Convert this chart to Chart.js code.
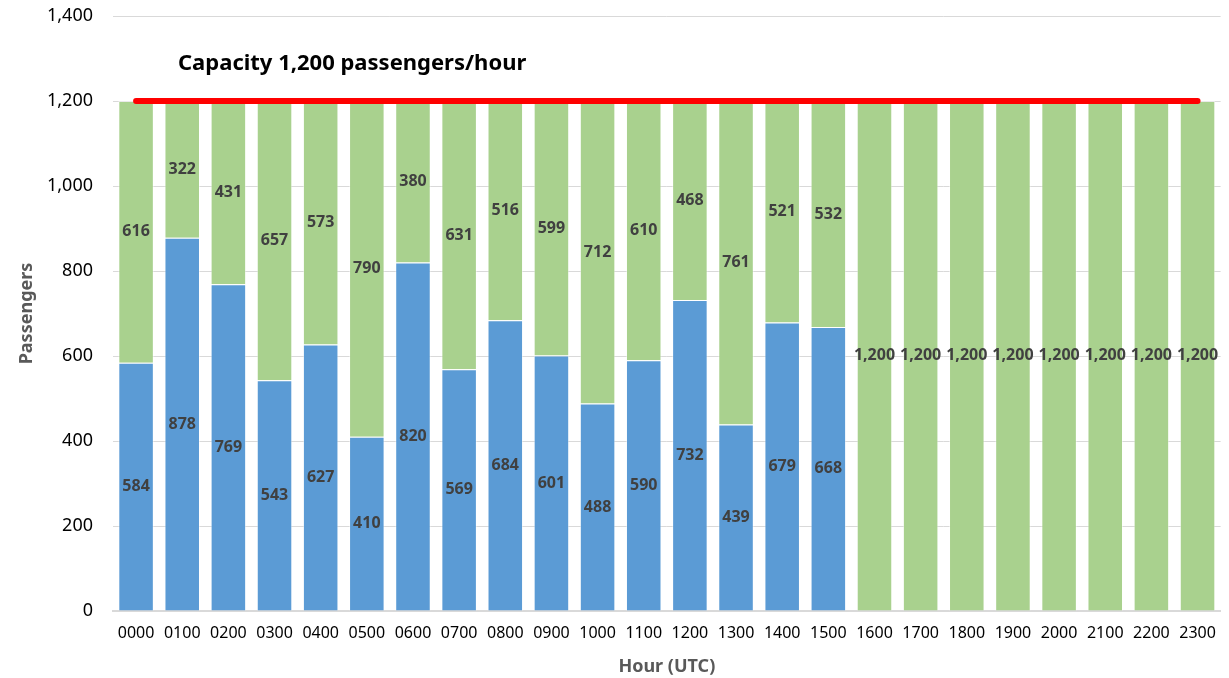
<!DOCTYPE html>
<html lang="en">
  <head>
    <meta charset="UTF-8" />
    <title>Passengers per hour</title>
    <script src="https://cdn.jsdelivr.net/npm/chart.js"></script>
    <style>
      html, body { margin: 0; padding: 0; background: #fff; }
      #wrap { width: 1229px; height: 678px; }
    </style>
  </head>
  <body>
    <div id="wrap"><canvas id="paxChart" width="1229" height="678"></canvas></div>

    <script>
      // hours on the x axis
      const hours = ['0000', '0100', '0200', '0300', '0400', '0500', '0600', '0700',
        '0800', '0900', '1000', '1100', '1200', '1300', '1400', '1500',
        '1600', '1700', '1800', '1900', '2000', '2100', '2200', '2300'];
      // booked passengers (blue)
      const booked = [584, 878, 769, 543, 627, 410, 820, 569, 684, 601, 488, 590, 732, 439, 679, 668,
        null, null, null, null, null, null, null, null];
      // remaining capacity (green)
      const remaining = [616, 322, 431, 657, 573, 790, 380, 631, 516, 599, 712, 610, 468, 761, 521, 532,
        1200, 1200, 1200, 1200, 1200, 1200, 1200, 1200];
      const capacity = hours.map(() => 1200);
      const yTicks = [0, 200, 400, 600, 800, 1000, 1200, 1400];
      const capacityText = 'Capacity 1,200 passengers/hour';

      const fmt = v => Number(v).toLocaleString('en-US');

      // value labels in the middle of every bar segment
      const segmentLabels = {
        id: 'segmentLabels',
        afterDatasetsDraw(chart) {
          const ctx = chart.ctx;
          ctx.save();
          ctx.font = 'bold 16px "Noto Sans"';
          ctx.fillStyle = '#404040';
          ctx.textAlign = 'center';
          ctx.textBaseline = 'middle';
          chart.data.datasets.forEach((ds, i) => {
            if (ds.type !== 'bar') return;
            const meta = chart.getDatasetMeta(i);
            meta.data.forEach((bar, j) => {
              const v = ds.data[j];
              if (v == null) return;
              ctx.fillText(fmt(v), bar.x, (bar.y + bar.base) / 2);
            });
          });
          ctx.restore();
        }
      };

      // the capacity caption above the red line
      const capacityCaption = {
        id: 'capacityCaption',
        afterDraw(chart) {
          const ctx = chart.ctx;
          ctx.save();
          ctx.font = 'bold 22px "Noto Sans"';
          ctx.fillStyle = '#000';
          ctx.textAlign = 'left';
          ctx.textBaseline = 'middle';
          ctx.fillText(capacityText, 178, 64);
          ctx.restore();
        }
      };

      const barBorder = 'rgba(255,255,255,0.45)';

      new Chart(document.getElementById('paxChart'), {
        data: {
          labels: hours,
          datasets: [
            {
              type: 'line',
              label: 'Capacity',
              data: capacity,
              borderColor: '#ff0000',
              borderWidth: 6,
              borderCapStyle: 'round',
              pointRadius: 0,
              fill: false,
              stack: 'cap',
              order: 0
            },
            {
              type: 'bar',
              label: 'Booked',
              data: booked,
              backgroundColor: '#5b9bd5',
              borderColor: barBorder,
              borderWidth: 1,
              stack: 'pax',
              order: 1
            },
            {
              type: 'bar',
              label: 'Remaining',
              data: remaining,
              backgroundColor: '#a9d18e',
              borderColor: barBorder,
              borderWidth: 1,
              stack: 'pax',
              order: 2
            }
          ]
        },
        options: {
          responsive: false,
          animation: false,
          layout: { padding: { top: 16, right: 7, left: 0, bottom: 0 } },
          datasets: {
            bar: { barPercentage: 0.77, categoryPercentage: 1.0 }
          },
          plugins: {
            legend: { display: false },
            tooltip: { enabled: false }
          },
          scales: {
            x: {
              stacked: true,
              offset: true,
              grid: { display: false, drawTicks: false },
              border: { display: true, color: '#d9d9d9', width: 2 },
              ticks: {
                color: '#000',
                font: { family: 'Noto Sans', size: 16 },
                padding: 13,
                maxRotation: 0,
                autoSkip: false
              },
              title: {
                display: true,
                text: 'Hour (UTC)',
                color: '#595959',
                font: { family: 'Noto Sans', size: 18, weight: 'bold' },
                padding: { top: 0, bottom: 0 }
              },
              afterFit(scale) { scale.height = 67; }
            },
            y: {
              stacked: true,
              min: 0,
              max: 1400,
              grid: { color: '#d9d9d9', lineWidth: 1, drawTicks: false },
              border: { display: false },
              afterBuildTicks(scale) { scale.ticks = yTicks.map(v => ({ value: v })); },
              ticks: {
                color: '#000',
                font: { family: 'Noto Sans', size: 18 },
                padding: 20,
                callback: v => fmt(v)
              },
              title: {
                display: true,
                text: 'Passengers',
                color: '#595959',
                font: { family: 'Noto Sans', size: 18, weight: 'bold' },
                padding: { top: 16, bottom: 16 }
              },
              afterFit(scale) {
                scale.width = 113;
                scale.paddingTop = 0;
                scale.paddingBottom = 0;
              }
            }
          }
        },
        plugins: [segmentLabels, capacityCaption]
      });
    </script>
  </body>
</html>
